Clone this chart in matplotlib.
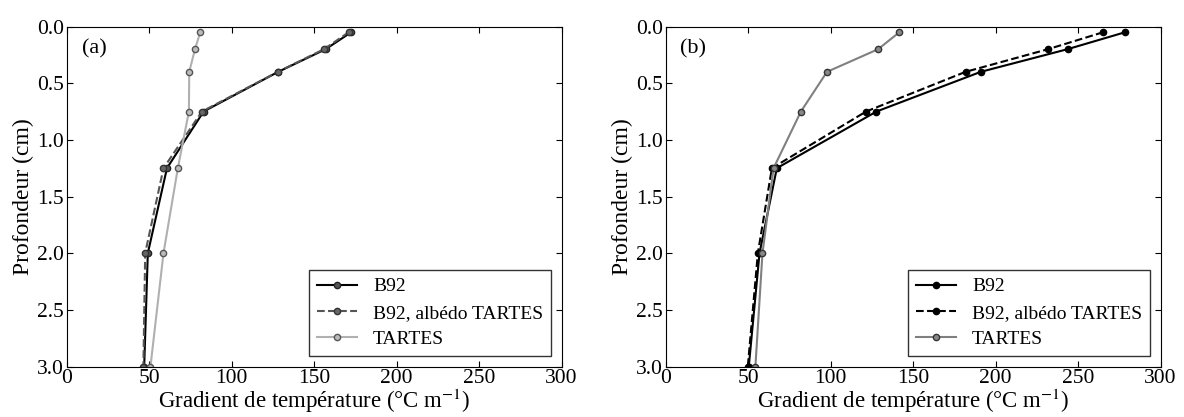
import matplotlib
matplotlib.use("Agg")
import matplotlib.pyplot as plt

plt.rcParams['font.family'] = ['Liberation Serif', 'DejaVu Serif']
plt.rcParams['mathtext.fontset'] = 'stix'
plt.rcParams['font.size'] = 15

# depth (cm)
depth = [0.05, 0.2, 0.4, 0.75, 1.25, 2.0, 3.0]

# panel (a)
a_b92 = [172.5, 157, 128.2, 83, 60.8, 49.2, 47]
a_b92_alb = [171, 156, 128, 82, 58.7, 47.6, 46.5]
a_tartes = [81, 77.8, 74.3, 74.1, 67.4, 58.7, 50.8]

# panel (b)
b_b92 = [278.6, 243.6, 191, 127.8, 67.4, 56.9, 50.4]
b_b92_alb = [265.3, 231.8, 181.8, 121.5, 64.4, 55.9, 49.8]
b_tartes = [141.7, 128.8, 97.8, 82, 65.4, 58.7, 54.4]

labels = ['B92', 'B92, albédo TARTES', 'TARTES']
xticks = [0, 50, 100, 150, 200, 250, 300]
yticks = [0.0, 0.5, 1.0, 1.5, 2.0, 2.5, 3.0]

fig = plt.figure(figsize=(11.84, 4.17), dpi=100)
ax1 = fig.add_axes([0.0563, 0.1211, 0.418, 0.8153])
ax2 = fig.add_axes([0.5622, 0.1211, 0.418, 0.8153])

ms = 4.5
ax1.plot(a_b92, depth, '-o', color='black', lw=1.5, ms=ms, mfc='#555555', mec='#222222', label=labels[0])
ax1.plot(a_b92_alb, depth, '--o', color='#555555', lw=1.5, ms=ms, mfc='#666666', mec='#333333', label=labels[1])
ax1.plot(a_tartes, depth, '-o', color='#b0b0b0', lw=1.5, ms=ms, mfc='#bbbbbb', mec='#555555', label=labels[2])

ax2.plot(b_b92, depth, '-o', color='black', lw=1.5, ms=ms, mfc='black', mec='black', label=labels[0])
ax2.plot(b_b92_alb, depth, '--o', color='black', lw=1.5, ms=ms, mfc='black', mec='black', label=labels[1])
ax2.plot(b_tartes, depth, '-o', color='#808080', lw=1.5, ms=ms, mfc='#888888', mec='#333333', label=labels[2])

for ax, tag in [(ax1, '(a)'), (ax2, '(b)')]:
    ax.set_xlim(0, 300)
    ax.set_ylim(3.0, 0.0)
    ax.set_xticks(xticks)
    ax.set_yticks(yticks)
    ax.set_yticklabels(['%.1f' % v for v in yticks])
    ax.tick_params(direction='in', top=True, right=True, length=4, width=0.8, labelsize=15.5, pad=2)
    ax.set_xlabel('Gradient de température (°C m$^{-1}$)', fontsize=16.5, labelpad=-1)
    ax.set_ylabel('Profondeur (cm)', fontsize=17, labelpad=2)
    ax.text(0.03, 0.935, tag, transform=ax.transAxes, fontsize=16, va='center', ha='left')
    leg = ax.legend(loc='lower right', numpoints=1, fancybox=False, framealpha=1,
                    edgecolor='#333333', handlelength=2.1, borderaxespad=0.55, fontsize=14,
                    labelspacing=0.45)
    leg.get_frame().set_linewidth(1.0)

fig.savefig('out.png', dpi=100)
